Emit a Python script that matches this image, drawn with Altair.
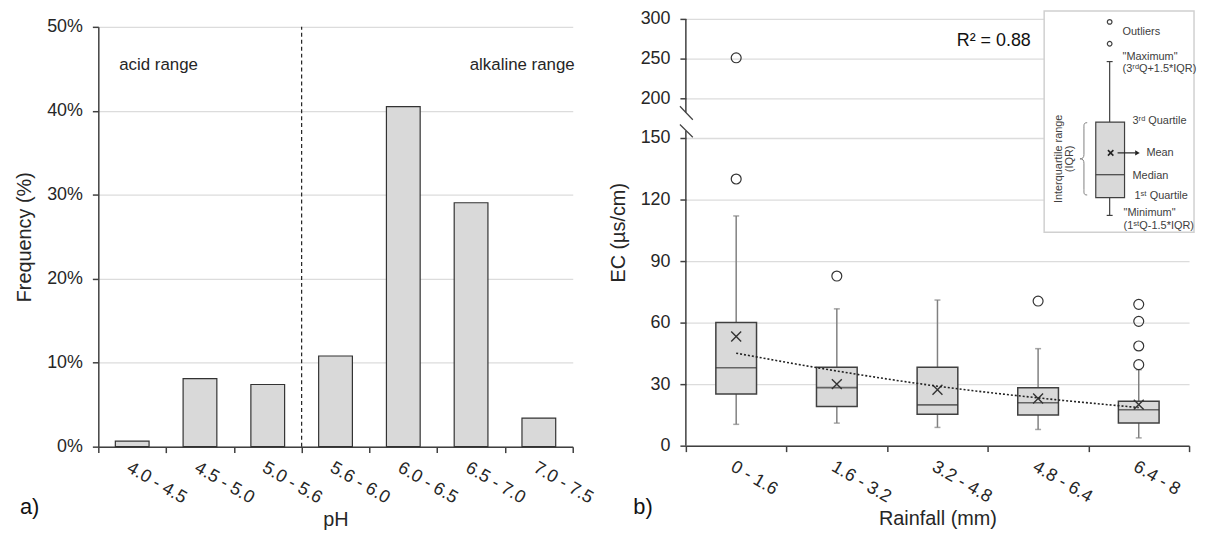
import altair as alt
import pandas as pd

# ---------------- data ----------------
ph_bins = ["4.0 - 4.5", "4.5 - 5.0", "5.0 - 5.6", "5.6 - 6.0", "6.0 - 6.5", "6.5 - 7.0", "7.0 - 7.5"]
ph_freq = [0.0065, 0.081, 0.074, 0.108, 0.405, 0.2905, 0.034]

rain_bins = ["0 - 1.6", "1.6 - 3.2", "3.2 - 4.8", "4.8 - 6.4", "6.4 - 8"]
ec_min = [10.4, 11.0, 8.9, 7.9, 3.8]
ec_q1 = [25.2, 19.1, 15.3, 15.0, 11.0]
ec_median = [38.0, 28.3, 19.9, 20.9, 17.5]
ec_q3 = [60.0, 38.2, 38.2, 28.2, 21.7]
ec_max = [112.0, 66.7, 71.0, 47.3, 37.0]
ec_mean = [53.2, 30.0, 27.3, 23.0, 20.0]
ec_trend = [45.1, 36.4, 29.0, 23.3, 18.6]
outlier_bin = ["0 - 1.6", "0 - 1.6", "1.6 - 3.2", "4.8 - 6.4", "6.4 - 8", "6.4 - 8", "6.4 - 8", "6.4 - 8"]
outlier_val = [251, 130, 82.7, 70.5, 68.9, 60.6, 48.6, 39.5]

y_ticks_ec = [0, 30, 60, 90, 120, 150, 200, 250, 300]
y_ticks_freq = [0, 0.1, 0.2, 0.3, 0.4, 0.5]

FONT = "Liberation Sans"
AX = "#404040"
TXT = "#262626"
FILL = "#d9d9d9"
GRID = "#dcdcdc"

one = pd.DataFrame({"a": [0]})

# ---------------- left panel ----------------
W1, H1 = 478, 431
ph_df = pd.DataFrame({"bin": ph_bins, "freq": ph_freq})

x_ph = alt.X("bin:N", sort=ph_bins, title="pH",
             scale=alt.Scale(domain=ph_bins, paddingInner=0, paddingOuter=0),
             axis=alt.Axis(labelAngle=30, tickBand="extent", grid=False, labelPadding=6,
                           titlePadding=3))
y_freq = alt.Y("freq:Q", title="Frequency (%)",
               scale=alt.Scale(domain=[0, 0.5], range=[H1, 8], nice=False, zero=True),
               axis=alt.Axis(values=y_ticks_freq, format=".0%", grid=True, labelPadding=10,
                             titlePadding=12))

bars = alt.Chart(ph_df).mark_bar(size=34, fill=FILL, stroke="#333333", strokeWidth=1.2).encode(
    x=x_ph, y=y_freq)

split = alt.Chart(one).mark_rule(color="#222222", strokeDash=[4, 3], strokeWidth=1.2).encode(
    x=alt.X("b:N", bandPosition=0), y=alt.datum(0), y2=alt.datum(0.5)
).transform_calculate(b="'5.6 - 6.0'")


def note(txt, x, y, size=11, align="left", angle=0, color=TXT, baseline="middle"):
    return alt.Chart(one).mark_text(text=txt, align=align, baseline=baseline, fontSize=size,
                                    font=FONT, color=color, angle=angle).encode(
        x=alt.value(x), y=alt.value(y))


acid = note("acid range", 21, 46, size=17)
alka = note("alkaline range", W1 + 2, 46, size=17, align="right")
a_lab = note("a)", -79, 492, size=22, color="#111111")

left = alt.layer(bars, split, acid, alka, a_lab).properties(width=W1, height=H1)

# ---------------- right panel ----------------
W2, H2 = 507, 430
box_df = pd.DataFrame({"bin": rain_bins, "lo": ec_min, "q1": ec_q1, "med": ec_median,
                       "q3": ec_q3, "hi": ec_max, "mean": ec_mean, "trend": ec_trend})
out_df = pd.DataFrame({"bin": outlier_bin, "val": outlier_val})

x_rain = alt.X("bin:N", sort=rain_bins, title="Rainfall (mm)",
               scale=alt.Scale(domain=rain_bins, paddingInner=0, paddingOuter=0),
               axis=alt.Axis(labelAngle=30, tickBand="extent", grid=False, labelPadding=6,
                             titlePadding=3))
y_scale = alt.Scale(domain=[0, 150, 300], range=[H2, 120, 0], nice=False, zero=False)
y_ec = alt.Y("q1:Q", title="EC (µs/cm)", scale=y_scale,
             axis=alt.Axis(values=y_ticks_ec, grid=True, domain=False, labelPadding=10,
                           titlePadding=12))

base = alt.Chart(box_df)
whisk_lo = base.mark_rule(color="#808080", strokeWidth=1.5).encode(
    x=x_rain, y=y_ec, y2="lo:Q")
whisk_hi = base.mark_rule(color="#808080", strokeWidth=1.5).encode(
    x=x_rain, y=alt.Y("q3:Q", scale=y_scale), y2="hi:Q")
cap_lo = base.mark_tick(color="#808080", size=6, thickness=1.5).encode(
    x=x_rain, y=alt.Y("lo:Q", scale=y_scale))
cap_hi = base.mark_tick(color="#808080", size=6, thickness=1.5).encode(
    x=x_rain, y=alt.Y("hi:Q", scale=y_scale))
box = base.mark_bar(size=41, fill=FILL, stroke=AX, strokeWidth=1.5).encode(
    x=x_rain, y=y_ec, y2="q3:Q")
med = base.mark_tick(color="#333333", size=41, thickness=1.6).encode(
    x=x_rain, y=alt.Y("med:Q", scale=y_scale))
mean = base.mark_point(shape="M-1,-1L1,1M-1,1L1,-1", size=100, filled=False,
                       color="#333333", strokeWidth=1.4, opacity=1).encode(
    x=x_rain, y=alt.Y("mean:Q", scale=y_scale))
trend = base.mark_line(color="#222222", strokeDash=[2, 2], strokeWidth=1.6,
                       interpolate="monotone").encode(
    x=x_rain, y=alt.Y("trend:Q", scale=y_scale))
outs = alt.Chart(out_df).mark_point(shape="circle", size=100, filled=False, color="#333333",
                                    strokeWidth=1.2, opacity=1).encode(
    x=x_rain, y=alt.Y("val:Q", scale=y_scale))

# broken y axis line and break marks
axis_lo = alt.Chart(one).mark_rule(color=AX, strokeWidth=1.5).encode(
    x=alt.value(0), y=alt.datum(0, scale=y_scale), y2=alt.datum(159))
axis_hi = alt.Chart(one).mark_rule(color=AX, strokeWidth=1.5).encode(
    x=alt.value(0), y=alt.datum(182, scale=y_scale), y2=alt.datum(300))
brk1 = alt.Chart(one).mark_rule(color=AX, strokeWidth=1.2).encode(
    x=alt.value(-6), x2=alt.value(7), y=alt.datum(190, scale=y_scale), y2=alt.datum(173))
brk2 = alt.Chart(one).mark_rule(color=AX, strokeWidth=1.2).encode(
    x=alt.value(-6), x2=alt.value(7), y=alt.datum(167, scale=y_scale), y2=alt.datum(151))

r2 = note("R² = 0.88", 273, 22, size=18, color="#111111")
b_lab = note("b)", -53, 492, size=22, color="#111111")

# ---- schematic legend (inset) ----
LG = "#404040"
leg_frame = alt.Chart(one).mark_rect(fill="white", stroke="#d0d0d0", strokeWidth=1.5).encode(
    x=alt.value(361), x2=alt.value(512), y=alt.value(-8), y2=alt.value(215))
leg_circ = alt.Chart(pd.DataFrame({"yy": [3, 25]})).mark_point(
    shape="circle", size=22, filled=False, color=LG, strokeWidth=1.2, opacity=1).encode(
    x=alt.value(427), y=alt.Y("yy:Q", scale=None))
leg_wh = alt.Chart(one).mark_rule(color=LG, strokeWidth=1.2).encode(
    x=alt.value(427), y=alt.value(43), y2=alt.value(198))
leg_cap1 = alt.Chart(one).mark_rule(color=LG, strokeWidth=1.2).encode(
    x=alt.value(424), x2=alt.value(430), y=alt.value(43))
leg_cap2 = alt.Chart(one).mark_rule(color=LG, strokeWidth=1.2).encode(
    x=alt.value(424), x2=alt.value(430), y=alt.value(198))
leg_box = alt.Chart(one).mark_rect(fill=FILL, stroke=LG, strokeWidth=1.2).encode(
    x=alt.value(413), x2=alt.value(442), y=alt.value(104), y2=alt.value(180))
leg_med = alt.Chart(one).mark_rule(color=LG, strokeWidth=1.2).encode(
    x=alt.value(413), x2=alt.value(442), y=alt.value(157))
leg_mean = alt.Chart(one).mark_point(shape="M-1,-1L1,1M-1,1L1,-1", size=30, filled=False,
                                     color="#222222", strokeWidth=1.6, opacity=1).encode(
    x=alt.value(428), y=alt.value(135))
leg_arrow = alt.Chart(one).mark_rule(color="#222222", strokeWidth=1.2).encode(
    x=alt.value(435), x2=alt.value(453), y=alt.value(135))
leg_head = alt.Chart(one).mark_point(shape="triangle-right", size=28, filled=True,
                                     color="#222222", opacity=1).encode(
    x=alt.value(455), y=alt.value(135))
leg_brace = alt.Chart(one).mark_point(
    shape="M0.12,-1 C0.02,-1 0.03,-0.95 0.03,-0.85 L0.03,-0.12 C0.03,-0.04 0,0 -0.08,0 "
          "C0,0 0.03,0.04 0.03,0.12 L0.03,0.85 C0.03,0.95 0.02,1 0.12,1",
    size=5300, filled=False, color="#808080", strokeWidth=1, opacity=1).encode(
    x=alt.value(400), y=alt.value(141))

leg_texts = [
    note("Outliers", 440, 13, size=11, color=LG),
    note("\"Maximum\"", 440, 38, size=11, color=LG),
    note("(3ʳᵈQ+1.5*IQR)", 440, 50, size=11, color=LG),
    note("3ʳᵈ Quartile", 450, 103, size=11, color=LG),
    note("Mean", 464, 135, size=11, color=LG),
    note("Median", 450, 158, size=11, color=LG),
    note("1ˢᵗ Quartile", 452, 178, size=11, color=LG),
    note("\"Minimum\"", 441, 196, size=11, color=LG),
    note("(1ˢᵗQ-1.5*IQR)", 441, 209, size=11, color=LG),
    note("Interquartile range", 376, 141, size=11, color=LG, align="center", angle=270),
    note("(IQR)", 387, 141, size=11, color=LG, align="center", angle=270),
]

right = alt.layer(
    whisk_lo, whisk_hi, cap_lo, cap_hi, box, med, mean, outs, trend,
    axis_lo, axis_hi, brk1, brk2, r2, b_lab,
    leg_frame, leg_circ, leg_wh, leg_cap1, leg_cap2, leg_box, leg_med, leg_mean,
    leg_arrow, leg_head, leg_brace, *leg_texts
).properties(width=W2, height=H2)

chart = alt.hconcat(left, right, spacing=114, bounds="flush").configure(
    font=FONT, padding={"left": 6, "top": 0, "right": 0, "bottom": 0}
).configure_view(stroke=None).configure_axis(
    labelFont=FONT, titleFont=FONT, labelFontSize=18, titleFontSize=20,
    labelColor=TXT, titleColor=TXT, titleFontWeight="normal",
    domainColor=AX, domainWidth=1.5, tickColor=AX, tickWidth=1.5, tickSize=6,
    gridColor=GRID, gridWidth=1.3
)

chart.save("out.html", embed_options={"renderer": "svg", "actions": False})
